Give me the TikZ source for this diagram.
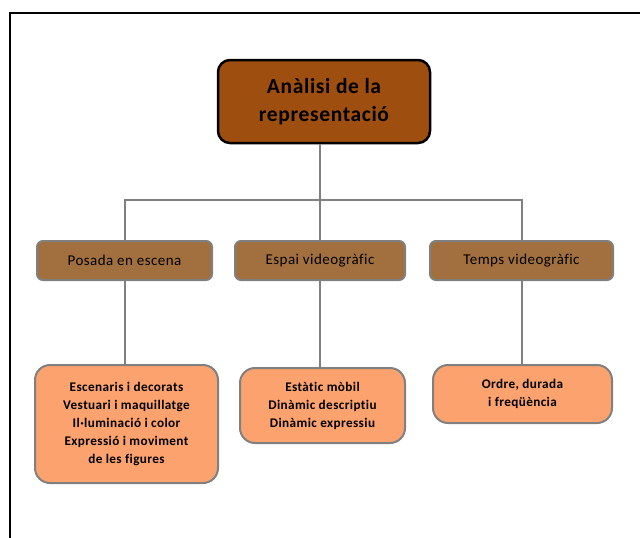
\documentclass[tikz,border=0pt]{standalone}
\usepackage{fontspec}
\setmainfont{Carlito}[LetterSpace=3, Ligatures={NoCommon}]
\definecolor{topbrown}{RGB}{158,78,14}
\definecolor{midbrown}{RGB}{162,112,62}
\definecolor{salmon}{RGB}{251,162,110}
\definecolor{edgegray}{RGB}{128,128,128}
\tikzset{
  topbox/.style={draw=black, line width=2.5pt, fill=topbrown, rounded corners=12pt,
    align=center, font=\bfseries\fontsize{21.5}{28}\selectfont},
  catbox/.style={draw=edgegray, line width=2pt, fill=midbrown, rounded corners=6pt,
    align=center, font=\fontsize{15}{18}\selectfont},
  itembox/.style={draw=edgegray, line width=2pt, fill=salmon, rounded corners=15pt,
    align=center, font=\bfseries\fontsize{13.2}{18}\selectfont},
  conn/.style={draw=edgegray, line width=2pt}
}
\begin{document}
\begin{tikzpicture}[x=1pt, y=-1pt]
\useasboundingbox (0,0) rectangle (640,538);
% frame of the figure
\draw[line width=1.5pt] (10,538) -- (10,13) -- (640,13);
% top of the tree
\node[topbox, minimum width=212pt, minimum height=83pt] (arrel) at (324,101.5) {Anàlisi de la\\representació};
% three categories
\node[catbox, minimum width=175pt, minimum height=39pt] (posada) at (124.5,260.5) {Posada en escena};
\node[catbox, minimum width=170pt, minimum height=39pt] (espai) at (320,260.5) {Espai videogràfic};
\node[catbox, minimum width=183pt, minimum height=39pt] (temps) at (521.5,260.5) {Temps videogràfic};
% the lists under each one
\node[itembox, minimum width=183pt, minimum height=118pt] (llistaA) at (126.5,424) {Escenaris i decorats\\Vestuari i maquillatge\\Il·luminació i color\\Expressió i moviment\\de les figures};
\node[itembox, minimum width=165pt, minimum height=75pt] (llistaB) at (322.5,405.5) {Estàtic mòbil\\Dinàmic descriptiu\\Dinàmic expressiu};
\node[itembox, minimum width=179pt, minimum height=58pt] (llistaC) at (522.5,394) {Ordre, durada\\i freqüència};
% connectors
\coordinate (bus) at (320,200);
\draw[conn] (arrel.south -| espai.north) -- (espai.north);
\draw[conn] (posada.north) |- (bus) -| (temps.north);
\draw[conn] (posada.south) -- (posada.south |- llistaA.north);
\draw[conn] (espai.south) -- (espai.south |- llistaB.north);
\draw[conn] (temps.south) -- (temps.south |- llistaC.north);
\end{tikzpicture}
\end{document}
